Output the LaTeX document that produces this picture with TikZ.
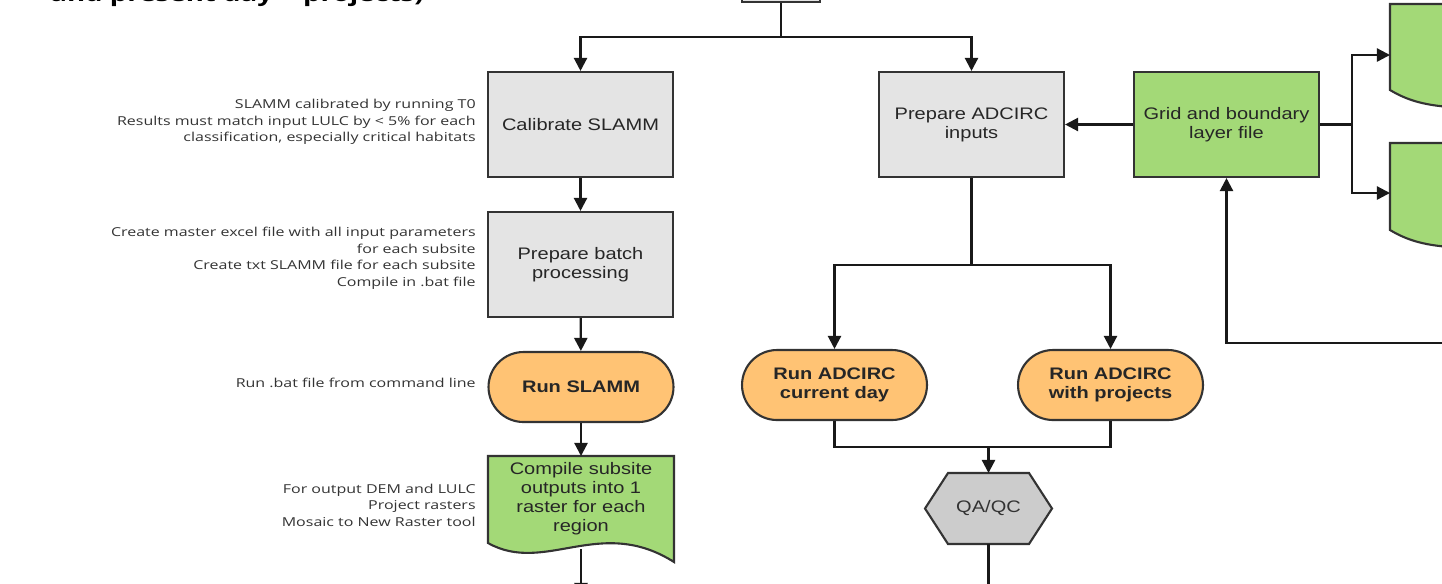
\documentclass[tikz,border=0pt]{standalone}
\usepackage{fontspec}
\setmainfont{Liberation Sans}[FakeStretch=1.2]
\newfontfamily\notefont{Open Sans}[FakeStretch=1.3]
\usetikzlibrary{arrows.meta}
\definecolor{boxgray}{HTML}{E4E4E4}
\definecolor{hexgray}{HTML}{CCCCCC}
\definecolor{lgreen}{HTML}{A3D977}
\definecolor{lorange}{HTML}{FFC374}
\definecolor{edgegray}{HTML}{333333}
\definecolor{notegray}{HTML}{333333}
\begin{document}
\begin{tikzpicture}[x=0.02cm,y=-0.02cm,
  shapeline/.style={draw=edgegray, line width=1.2pt},
  box/.style={shapeline, minimum width=3.7cm, minimum height=2.1cm, align=center, inner sep=2pt, text=black!85, font=\fontsize{9.5}{10.8}\selectfont},
  graybox/.style={box, fill=boxgray},
  greenbox/.style={box, fill=lgreen},
  runbox/.style={box, fill=lorange, minimum height=1.4cm, rounded corners=0.7cm, font=\fontsize{9.5}{10.8}\selectfont\bfseries},
  note/.style={anchor=east, align=right, font=\notefont\fontsize{7}{9.4}\selectfont, text=notegray, inner sep=0pt},
  conn/.style={draw=black!90, line width=1.3pt},
  arr/.style={conn, -{Triangle[length=7.5pt,width=7.5pt]}},
]
\useasboundingbox (0,0) rectangle (1442,583);

% title (cut off at top)
\node[anchor=base west, inner sep=0pt, font=\notefont\bfseries\fontsize{12.1}{14}\selectfont] (title) at (50,1.5) {and present day + projects)};

% top box (mostly outside the picture)
\node[graybox, minimum width=1.56cm, minimum height=1cm] (top) at (781,-23) {};

% left column
\node[graybox] (calib) at (580.5,124.5) {Calibrate SLAMM};
\node[graybox] (batch) at (580.5,264.5) {Prepare batch\\processing};
\node[runbox] (slamm) at (581,387) {Run SLAMM};
\path[shapeline, fill=lgreen] (488,456) -- (674,456) -- (674,562)
  .. controls (600,515) and (545,575) .. (488,543) -- cycle;
\node[align=center, inner sep=0pt, text=black!85, font=\fontsize{9.5}{10.8}\selectfont] (comp) at (581,498.5) {Compile subsite\\outputs into 1\\raster for each\\region};

% notes
\node[note] (n1) at (476,122) {SLAMM calibrated by running T0\\Results must match input LULC by < 5\% for each\\classification, especially critical habitats};
\node[note] (n2) at (476,258.5) {Create master excel file with all input parameters\\for each subsite\\Create txt SLAMM file for each subsite\\Compile in .bat file};
\node[note] (n3) at (476,383) {Run .bat file from command line};
\node[note] (n4) at (476,505) {For output DEM and LULC\\Project rasters\\Mosaic to New Raster tool};

% middle / right
\node[graybox] (adc) at (971.5,124.5) {Prepare ADCIRC\\inputs};
\node[greenbox] (grid) at (1226.5,124.5) {Grid and boundary\\layer file};
\node[runbox] (rcur) at (834.5,385) {Run ADCIRC\\current day};
\node[runbox] (rproj) at (1110.5,385) {Run ADCIRC\\with projects};
\path[shapeline, fill=hexgray] (925,508.5) -- (948,473) -- (1029,473) -- (1052,508.5) -- (1029,544) -- (948,544) -- cycle;
\node[inner sep=0pt, text=black!80, font=\fontsize{9.5}{10.8}\selectfont] (qa) at (988.5,508.5) {QA/QC};

% partial shapes at right edge
\path[shapeline, fill=lgreen] (1470,4) -- (1390,4) -- (1390,90) .. controls (1410,102) and (1430,107) .. (1470,108);
\path[shapeline, fill=lgreen] (1470,143) -- (1390,143) -- (1390,230) .. controls (1410,242) and (1430,247) .. (1470,248);

% coordinates
\coordinate (j1) at (781,37);
\coordinate (compt) at (581,456);
\coordinate (compb) at (581,549);
\coordinate (out1) at (581,596);
\coordinate (j2) at (971.5,265);
\coordinate (j3) at (988.5,447);
\coordinate (qatop) at (988.5,473);
\coordinate (qabot) at (988.5,544);
\coordinate (out2) at (988.5,590);
\coordinate (j4) at (1352,124.5);
\coordinate (d1) at (1390,55);
\coordinate (d2) at (1390,193);
\coordinate (loopr) at (1460,343);

% connectors
\draw[conn] (top.south) -- (j1);
\draw[arr] (j1) -| (calib.north);
\draw[arr] (j1) -| (adc.north);
\draw[arr] (calib) -- (batch);
\draw[arr] (batch) -- (slamm);
\draw[arr] (slamm.south) -- (compt);
\draw[arr] (compb) -- (out1);
\draw[conn] (adc.south) -- (j2);
\draw[arr] (j2) -| (rcur.north);
\draw[arr] (j2) -| (rproj.north);
\draw[conn] (rcur.south) |- (j3);
\draw[conn] (rproj.south) |- (j3);
\draw[arr] (j3) -- (qatop);
\draw[conn] (qabot) -- (out2);
\draw[arr] (grid) -- (adc);
\draw[conn] (grid.east) -- (j4);
\draw[arr] (j4) |- (d1);
\draw[arr] (j4) |- (d2);
\draw[arr] (loopr) -| (grid.south);
\end{tikzpicture}
\end{document}
